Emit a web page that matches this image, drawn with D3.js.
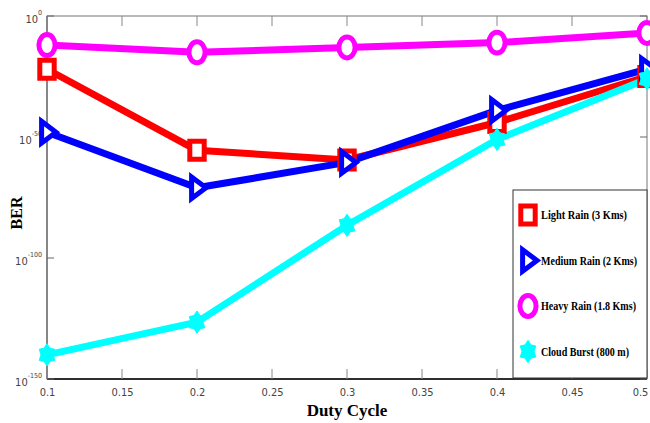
<!DOCTYPE html>
<html><head><meta charset="utf-8">
<script src="https://cdn.jsdelivr.net/npm/d3@7"></script>
<style>body{margin:0;background:#fff}svg{display:block}</style>
</head><body>
<svg id="c" width="650" height="423"></svg>
<script>
const dutyCycle = [0.1, 0.2, 0.3, 0.4, 0.5];
// BER values as log10 exponents
const lightRain  = [-22, -55.5, -59.5, -44, -25];
const mediumRain = [-48, -71, -60.5, -39, -22];
const heavyRain  = [-12, -15, -13, -11, -7];
const cloudBurst = [-140, -126.5, -86.5, -51, -26];
const seriesNames = ["Light Rain (3 Kms)", "Medium Rain (2 Kms)", "Heavy Rain (1.8 Kms)", "Cloud Burst (800 m)"];
const seriesColors = ["#ff0000", "#0000ff", "#ff00ff", "#00ffff"];
const xTicks = [0.1, 0.15, 0.2, 0.25, 0.3, 0.35, 0.4, 0.45, 0.5];
const yTickExp = [0, -50, -100, -150];

const series = [lightRain, mediumRain, heavyRain, cloudBurst];
const svg = d3.select("#c");
const L = 47, R = 647, T = 16, B = 379;
const x = d3.scaleLinear().domain([0.1, 0.5]).range([L, R]);
const y = d3.scaleLinear().domain([-150, 0]).range([B, T]); // log10 exponent

const tickFont = "'Liberation Sans Narrow','DejaVu Sans Condensed',Arial,sans-serif";
const serif = "'Liberation Serif','Times New Roman',serif";

// frame
svg.append("rect").attr("x", L).attr("y", T).attr("width", R - L).attr("height", B - T)
  .attr("fill", "none").attr("stroke", "#777").attr("stroke-width", 1);
svg.append("line").attr("x1", L).attr("x2", R).attr("y1", B).attr("y2", B).attr("stroke", "#000").attr("stroke-width", 1.5);
svg.append("line").attr("x1", L).attr("x2", L).attr("y1", T).attr("y2", B).attr("stroke", "#555").attr("stroke-width", 1);

// x ticks
const xAxis = d3.axisBottom(x).tickValues(xTicks).tickSize(0).tickPadding(9)
  .tickFormat(d => d3.format("")(+d.toFixed(2)));
const gx = svg.append("g").attr("transform", `translate(0,${B})`).call(xAxis);
gx.select(".domain").remove();
gx.selectAll("text").attr("font-family", tickFont).attr("font-size", 11).attr("fill", "#444")
  .attr("dx", d => d === 0.5 ? -7 : 0);
xTicks.forEach(v => {
  svg.append("line").attr("x1", x(v)).attr("x2", x(v)).attr("y1", B).attr("y2", B - 10).attr("stroke", "#888");
  svg.append("line").attr("x1", x(v)).attr("x2", x(v)).attr("y1", T).attr("y2", T + 10).attr("stroke", "#888");
});

// y ticks
yTickExp.forEach(e => {
  svg.append("line").attr("x1", L).attr("x2", L + 7).attr("y1", y(e)).attr("y2", y(e)).attr("stroke", "#666");
  svg.append("line").attr("x1", R).attr("x2", R - 7).attr("y1", y(e)).attr("y2", y(e)).attr("stroke", "#666");
  const t = svg.append("text").attr("x", 42).attr("y", y(e) + 7).attr("text-anchor", "end")
    .attr("font-family", tickFont).attr("fill", "#444");
  t.append("tspan").attr("font-size", 11).text("10");
  t.append("tspan").attr("font-size", 7).attr("dy", -8).text(e === 0 ? "0" : String(e));
});

// markers
function markerPath(i, s) {
  if (i === 0) return `M${-s*0.4},${-s*0.5}H${s*0.4}V${s*0.5}H${-s*0.4}Z`;
  if (i === 1) return `M${-s*0.3},${-s*0.6}L${s*0.5},0L${-s*0.3},${s*0.6}Z`;
  if (i === 2) { const a = s*0.45, b = s*0.58; return `M0,${-b}A${a},${b} 0 1,1 0,${b}A${a},${b} 0 1,1 0,${-b}Z`; }
  const pts = [];
  for (let k = 0; k < 12; k++) {
    const ang = -Math.PI/2 + k * Math.PI/6;
    const r = (k % 2 === 0 ? 0.62 : 0.42) * s;
    pts.push([Math.cos(ang) * r * 0.8, Math.sin(ang) * r]);
  }
  return "M" + pts.map(p => p.join(",")).join("L") + "Z";
}

const line = d3.line().x((d, i) => x(dutyCycle[i])).y(d => y(d));
series.forEach((vals, i) => {
  svg.append("path").datum(vals).attr("d", line).attr("fill", "none")
    .attr("stroke", seriesColors[i]).attr("stroke-width", 7).attr("stroke-linejoin", "round");
});
series.forEach((vals, i) => {
  vals.forEach((v, j) => {
    svg.append("path").attr("d", markerPath(i, 18))
      .attr("transform", `translate(${x(dutyCycle[j])},${y(v)})`)
      .attr("fill", i === 3 ? seriesColors[i] : "#fff")
      .attr("stroke", seriesColors[i]).attr("stroke-width", i === 3 ? 1 : 5);
  });
});

// legend
const lg = svg.append("g");
lg.append("rect").attr("x", 513).attr("y", 190).attr("width", 134).attr("height", 188)
  .attr("fill", "#fff").attr("stroke", "#333").attr("stroke-width", 1);
const legendW = [86, 96, 95, 88];
seriesNames.forEach((name, i) => {
  const cy = 215 + i * 45.5;
  lg.append("path").attr("d", markerPath(i, 18)).attr("transform", `translate(528,${cy})`)
    .attr("fill", i === 3 ? seriesColors[i] : "#fff")
    .attr("stroke", seriesColors[i]).attr("stroke-width", i === 3 ? 1 : 5);
  lg.append("text").attr("x", 541).attr("y", cy + 4).text(name)
    .attr("font-family", serif).attr("font-weight", "bold")
    .attr("font-size", 11.5).attr("textLength", legendW[i]).attr("lengthAdjust", "spacingAndGlyphs")
    .attr("fill", "#000");
});

// axis labels
svg.append("text").attr("x", 347).attr("y", 416).attr("text-anchor", "middle")
  .attr("font-family", serif).attr("font-weight", "bold")
  .attr("font-size", 17).text("Duty Cycle");
svg.append("text").attr("transform", "translate(22,213) rotate(-90)").attr("text-anchor", "middle")
  .attr("font-family", serif).attr("font-weight", "bold")
  .attr("font-size", 16).text("BER");
</script>
</body></html>
